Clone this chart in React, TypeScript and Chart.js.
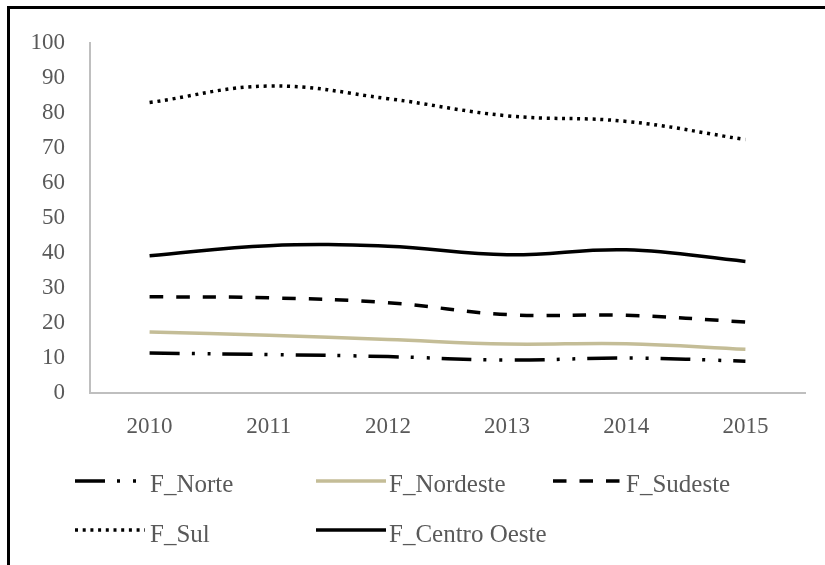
import React, { useEffect, useRef } from "react";
import { Chart, registerables } from "chart.js";

Chart.register(...registerables);

const categories = ["2010", "2011", "2012", "2013", "2014", "2015"];
const fNorte = [11.4, 11.0, 10.4, 9.4, 10.0, 9.1];
const fNordeste = [17.4, 16.5, 15.3, 14.0, 14.1, 12.5];
const fSudeste = [27.5, 27.2, 25.8, 22.4, 22.2, 20.3];
const fSul = [83.0, 87.7, 84.1, 79.2, 77.6, 72.4];
const fCentroOeste = [39.2, 42.1, 41.9, 39.5, 40.9, 37.6];

const seriesLabels = ["F_Norte", "F_Nordeste", "F_Sudeste", "F_Sul", "F_Centro Oeste"];

const FONT = "'Liberation Serif', 'Times New Roman', serif";
const TEXT = "#595959";

const legendPlugin = {
  id: "customLegend",
  afterDraw(chart: any) {
    const ctx = chart.ctx;
    const cols = [75, 316, 553];
    const lineRows = [481, 530];
    const textRows = [492, 542];
    const symW = 70;
    ctx.save();
    chart.data.datasets.forEach((ds: any, i: number) => {
      const col = i % 3;
      const row = Math.floor(i / 3);
      const x = cols[col];
      const y = lineRows[row];
      ctx.beginPath();
      ctx.setLineDash(ds.borderDash || []);
      ctx.lineCap = "butt";
      ctx.strokeStyle = ds.borderColor;
      ctx.lineWidth = ds.borderWidth;
      ctx.moveTo(x, y);
      ctx.lineTo(x + symW, y);
      ctx.stroke();
      ctx.setLineDash([]);
      ctx.fillStyle = TEXT;
      ctx.font = `25px ${FONT}`;
      ctx.textBaseline = "alphabetic";
      ctx.textAlign = "left";
      ctx.fillText(ds.label, x + symW + (i === 0 || i === 3 ? 5 : 3), textRows[row]);
    });
    ctx.restore();
  },
};

export default function App() {
  const canvasRef = useRef<HTMLCanvasElement | null>(null);

  useEffect(() => {
    if (!canvasRef.current) return;
    const chart = new Chart(canvasRef.current, {
      type: "line",
      data: {
        labels: categories,
        datasets: [
          {
            label: seriesLabels[0],
            data: fNorte,
            borderColor: "#000000",
            borderWidth: 3.5,
            borderDash: [30, 12, 3, 13, 3, 12],
          },
          {
            label: seriesLabels[1],
            data: fNordeste,
            borderColor: "#c4bd97",
            borderWidth: 3.5,
          },
          {
            label: seriesLabels[2],
            data: fSudeste,
            borderColor: "#000000",
            borderWidth: 3.5,
            borderDash: [13.5, 13],
          },
          {
            label: seriesLabels[3],
            data: fSul,
            borderColor: "#000000",
            borderWidth: 3.5,
            borderDash: [3, 4.7],
          },
          {
            label: seriesLabels[4],
            data: fCentroOeste,
            borderColor: "#000000",
            borderWidth: 3.5,
          },
        ].map((d) => ({
          ...d,
          fill: false,
          tension: 0.4,
          pointRadius: 0,
          pointHoverRadius: 0,
          borderCapStyle: "butt",
        })) as any,
      },
      options: {
        responsive: false,
        animation: false,
        layout: { padding: { left: 0, right: 20, top: 43, bottom: 0 } },
        plugins: { legend: { display: false }, tooltip: { enabled: false } },
        scales: {
          x: {
            type: "category",
            offset: true,
            grid: { display: true, color: "rgba(0,0,0,0)", drawTicks: false },
            border: { display: true, color: "#bfbfbf", width: 2 },
            ticks: { color: TEXT, font: { family: FONT, size: 23 }, padding: 20, maxRotation: 0 },
            afterFit: (s: any) => {
              s.height = 172;
            },
          },
          y: {
            min: 0,
            max: 100,
            grid: { display: true, color: "rgba(0,0,0,0)", drawTicks: false },
            border: { display: true, color: "#bfbfbf", width: 2 },
            ticks: { stepSize: 10, color: TEXT, font: { family: FONT, size: 23 }, padding: 25 },
            afterFit: (s: any) => {
              s.width = 90;
            },
          },
        },
      },
      plugins: [legendPlugin],
    });
    return () => chart.destroy();
  }, []);

  return (
    <div style={{ position: "fixed", left: 0, top: 0, width: 825, height: 565, background: "#fff", overflow: "hidden" }}>
      <div
        style={{
          position: "absolute",
          left: 7,
          top: 6,
          width: 830,
          height: 570,
          borderTop: "3px solid #000",
          borderLeft: "3px solid #000",
        }}
      />
      <canvas ref={canvasRef} width={825} height={565} style={{ position: "absolute", left: 0, top: 0 }} />
    </div>
  );
}
